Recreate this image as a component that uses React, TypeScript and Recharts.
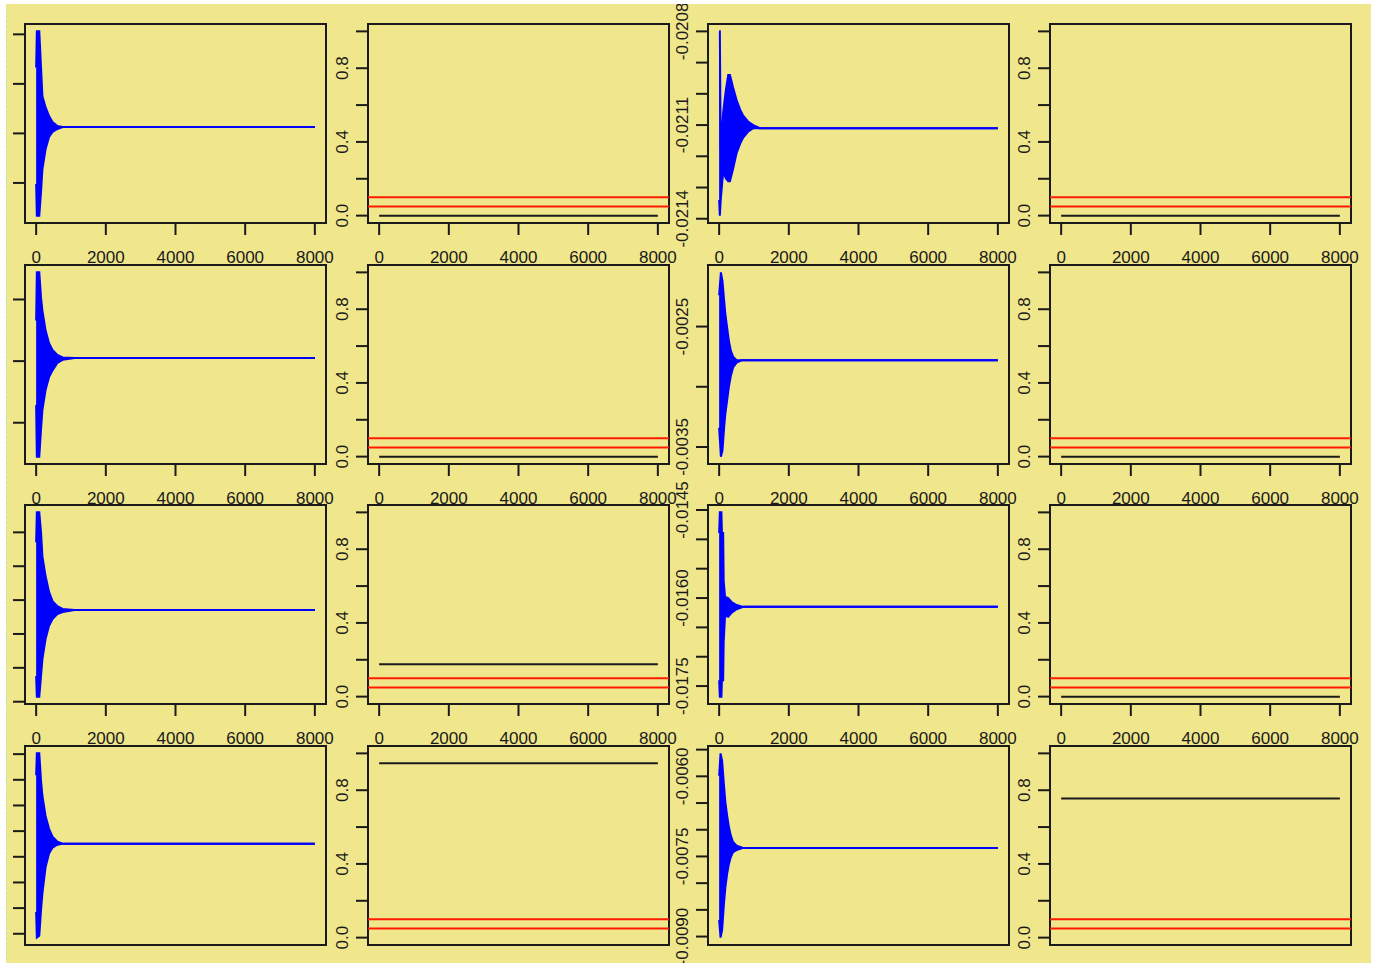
import React from 'react';
import { ComposedChart, Area, Line, XAxis, YAxis, ReferenceLine, ReferenceArea } from 'recharts';

// shared x axis (iterations)
const X_TICKS = [0, 2000, 4000, 6000, 8000];
const X_LAST = 8000;

// right-hand panels: probability scale with two red limits
const LIMIT_TICKS = [0, 0.2, 0.4, 0.6, 0.8, 1.0];
const LIMIT_LABELS = ['0.0', '0.4', '0.8'];
const RED_LIMITS = [0.1, 0.05];
const COL2_LEVEL = [0.0, 0.0, 0.176, 0.946];
const COL4_LEVEL = [0.0, 0.0, 0.0, 0.755];

// left column traces (labels fall off the page, values in tick units)
const COL1_X = [0, 20, 90, 140, 180, 270, 370, 470, 610, 760, 1100];

const R1C1_HI = [3.33, 4.06, 4.06, 3.33, 2.75, 2.53, 2.35, 2.23, 2.15, 2.13, 2.13];
const R1C1_LO = [0.98, 0.34, 0.34, 0.82, 1.28, 1.68, 1.93, 2.03, 2.09, 2.13, 2.13];
const R1C1_TICKS = [1, 2, 3, 4];

const R2C1_HI = [2.66, 3.44, 3.44, 3.03, 2.82, 2.5, 2.29, 2.18, 2.1, 2.06, 2.05];
const R2C1_LO = [1.29, 0.45, 0.45, 0.89, 1.21, 1.53, 1.74, 1.85, 1.97, 2.02, 2.05];
const R2C1_TICKS = [1, 2, 3];

const R3C1_HI = [5.71, 6.59, 6.59, 6.0, 5.29, 4.71, 4.24, 3.97, 3.82, 3.74, 3.71];
const R3C1_LO = [1.76, 1.15, 1.15, 1.76, 2.26, 2.85, 3.24, 3.44, 3.59, 3.65, 3.71];
const R3C1_TICKS = [1, 2, 3, 4, 5, 6];

const R4C1_HI = [7.18, 8.03, 8.03, 6.95, 6.37, 5.59, 5.09, 4.78, 4.59, 4.51, 4.51];
const R4C1_LO = [1.85, 0.85, 0.92, 1.93, 2.58, 3.59, 4.13, 4.36, 4.47, 4.51, 4.51];
const R4C1_TICKS = [1, 2, 3, 4, 5, 6, 7, 8];

// third column traces
const R1C3_X = [0, 20, 45, 115, 190, 260, 310, 400, 500, 600, 690, 840, 980, 1170, 1360];
const R1C3_HI = [-0.0208, -0.0208, -0.02118, -0.02106, -0.02099, -0.02094, -0.02094, -0.02098, -0.02102, -0.02105, -0.02107, -0.02109, -0.0211, -0.02111, -0.02111];
const R1C3_LO = [-0.02134, -0.02139, -0.02134, -0.02125, -0.02127, -0.02128, -0.02128, -0.02124, -0.02119, -0.02116, -0.02114, -0.02112, -0.02111, -0.02111, -0.02111];
const R1C3_TICKS = [-0.0214, -0.0213, -0.0212, -0.0211, -0.021, -0.0209, -0.0208];
const R1C3_LABELS = ['-0.0214', '-0.0211', '-0.0208'];

const R2C3_X = [0, 50, 95, 145, 180, 230, 280, 335, 400, 500, 640];
const R2C3_HI = [-0.00224, -0.00205, -0.00212, -0.00229, -0.0024, -0.00251, -0.00262, -0.0027, -0.00275, -0.00278, -0.00278];
const R2C3_LO = [-0.00334, -0.00358, -0.00353, -0.00333, -0.00322, -0.00311, -0.003, -0.00291, -0.00284, -0.0028, -0.00278];
const R2C3_TICKS = [-0.0035, -0.003, -0.0025];
const R2C3_LABELS = ['-0.0035', '-0.0025'];

const R3C3_X = [0, 20, 65, 80, 115, 130, 170, 260, 360, 500, 690];
const R3C3_HI = [-0.01489, -0.01454, -0.01454, -0.01489, -0.01489, -0.01571, -0.01598, -0.016, -0.01607, -0.01612, -0.01615];
const R3C3_LO = [-0.0174, -0.01768, -0.01768, -0.0174, -0.0174, -0.01675, -0.0163, -0.01632, -0.01625, -0.01619, -0.01615];
const R3C3_TICKS = [-0.0175, -0.017, -0.0165, -0.016, -0.0155, -0.015, -0.0145];
const R3C3_LABELS = ['-0.0175', '-0.0160', '-0.0145'];

const R4C3_X = [0, 40, 85, 135, 180, 230, 280, 335, 400, 500, 690];
const R4C3_HI = [-0.00599, -0.00557, -0.00571, -0.00614, -0.00649, -0.00674, -0.00695, -0.00711, -0.00723, -0.0073, -0.00734];
const R4C3_LO = [-0.00869, -0.00902, -0.00888, -0.00841, -0.00807, -0.00782, -0.00764, -0.00751, -0.00742, -0.00738, -0.00734];
const R4C3_TICKS = [-0.009, -0.0085, -0.008, -0.0075, -0.007, -0.0065, -0.006, -0.0055];
const R4C3_LABELS = ['-0.0090', '-0.0075', '-0.0060'];

// layout
const ORIGIN_X = 6;
const ORIGIN_Y = 4;
const BOX_LEFT = [25, 368, 708, 1050];
const BOX_TOP = [24, 265, 505, 746];
const BOX_W = 301;
const BOX_H = 199;
const GUTTER = 40;
const X_DOMAIN: [number, number] = [-320, 8320];
const FONT = '"Liberation Sans", Arial, Helvetica, sans-serif';
const INK = '#1a1a1a';

const padDomain = (vals: number[]): [number, number] => {
  const lo = Math.min(...vals);
  const hi = Math.max(...vals);
  const pad = (hi - lo) * 0.04;
  return [lo - pad, hi + pad];
};

const XTick = ({ x, y, payload }: any) => (
  <text x={x} y={y + 28} textAnchor="middle" fontSize={17} fontFamily={FONT} fill={INK}>
    {payload.value}
  </text>
);

const makeYTick = (labels: string[], digits: number) => ({ x, y, payload }: any) => {
  const txt = Number(payload.value).toFixed(digits);
  if (!labels.includes(txt)) return <g />;
  return (
    <text transform={`translate(${x - 8},${y}) rotate(-90)`} textAnchor="middle" fontSize={17} fontFamily={FONT} fill={INK}>
      {txt}
    </text>
  );
};

const tickLine = { stroke: INK, strokeWidth: 2 };

// bottom row: x labels fall below the device edge, so only the tick marks remain
const Frame = ({ col, row, data, domain, ticks, yTick, children }: any) => (
  <div style={{ position: 'absolute', left: BOX_LEFT[col] - GUTTER - ORIGIN_X, top: BOX_TOP[row] - ORIGIN_Y }}>
    <ComposedChart width={BOX_W + GUTTER} height={BOX_H + GUTTER} data={data} margin={{ top: 0, right: 0, bottom: 0, left: 0 }}>
      <XAxis type="number" dataKey="x" domain={X_DOMAIN} ticks={X_TICKS} interval={0} allowDataOverflow
        axisLine={false} tickSize={12} tickMargin={0} tickLine={tickLine} tick={row < 3 ? XTick : false} height={GUTTER} />
      <YAxis type="number" domain={domain} ticks={ticks} interval={0} allowDataOverflow
        axisLine={false} tickSize={12} tickMargin={0} tickLine={tickLine} tick={yTick} width={GUTTER} />
      {children}
      <ReferenceArea x1={X_DOMAIN[0]} x2={X_DOMAIN[1]} y1={domain[0]} y2={domain[1]} ifOverflow="visible"
        fill="none" stroke={INK} strokeWidth={2} />
    </ComposedChart>
  </div>
);

const TracePanel = ({ col, row, xs, hi, lo, ticks, labels }: any) => {
  const level = hi[hi.length - 1];
  const data = xs.map((x: number, i: number) => ({ x, band: [lo[i], hi[i]] }))
    .concat([{ x: X_LAST, band: [level, level] }]);
  const domain = padDomain([...hi, ...lo]);
  return (
    <Frame col={col} row={row} data={data} domain={domain} ticks={ticks} yTick={makeYTick(labels, 4)}>
      <Area type="linear" dataKey="band" stroke="#0000ff" strokeWidth={2} fill="#0000ff" fillOpacity={1}
        dot={false} activeDot={false} isAnimationActive={false} />
    </Frame>
  );
};

const LimitPanel = ({ col, row, level }: any) => {
  const data = [{ x: 0, p: level }, { x: X_LAST, p: level }];
  return (
    <Frame col={col} row={row} data={data} domain={[-0.04, 1.04]} ticks={LIMIT_TICKS} yTick={makeYTick(LIMIT_LABELS, 1)}>
      <Line type="linear" dataKey="p" stroke={INK} strokeWidth={2} dot={false} activeDot={false} isAnimationActive={false} />
      {RED_LIMITS.map((v) => (
        <ReferenceLine key={v} y={v} stroke="#ff1a00" strokeWidth={2} ifOverflow="visible" />
      ))}
    </Frame>
  );
};

const COL1 = [
  { hi: R1C1_HI, lo: R1C1_LO, ticks: R1C1_TICKS },
  { hi: R2C1_HI, lo: R2C1_LO, ticks: R2C1_TICKS },
  { hi: R3C1_HI, lo: R3C1_LO, ticks: R3C1_TICKS },
  { hi: R4C1_HI, lo: R4C1_LO, ticks: R4C1_TICKS },
];

const COL3 = [
  { xs: R1C3_X, hi: R1C3_HI, lo: R1C3_LO, ticks: R1C3_TICKS, labels: R1C3_LABELS },
  { xs: R2C3_X, hi: R2C3_HI, lo: R2C3_LO, ticks: R2C3_TICKS, labels: R2C3_LABELS },
  { xs: R3C3_X, hi: R3C3_HI, lo: R3C3_LO, ticks: R3C3_TICKS, labels: R3C3_LABELS },
  { xs: R4C3_X, hi: R4C3_HI, lo: R4C3_LO, ticks: R4C3_TICKS, labels: R4C3_LABELS },
];

export default function App() {
  return (
    <div style={{ position: 'relative', width: 1379, height: 965, overflow: 'hidden', background: '#ffffff' }}>
      <style>{'body{margin:0} .recharts-surface{overflow:visible}'}</style>
      <div style={{ position: 'absolute', left: ORIGIN_X, top: ORIGIN_Y, width: 1365, height: 959, background: '#F0E68C', overflow: 'hidden' }}>
        {[0, 1, 2, 3].map((row) => (
          <React.Fragment key={row}>
            <TracePanel col={0} row={row} xs={COL1_X} hi={COL1[row].hi} lo={COL1[row].lo} ticks={COL1[row].ticks} labels={[]} />
            <LimitPanel col={1} row={row} level={COL2_LEVEL[row]} />
            <TracePanel col={2} row={row} {...COL3[row]} />
            <LimitPanel col={3} row={row} level={COL4_LEVEL[row]} />
          </React.Fragment>
        ))}
      </div>
      <div style={{ position: 'absolute', left: 6, top: 10, height: 950, borderLeft: '1px dashed #b8e6ac' }} />
    </div>
  );
}
